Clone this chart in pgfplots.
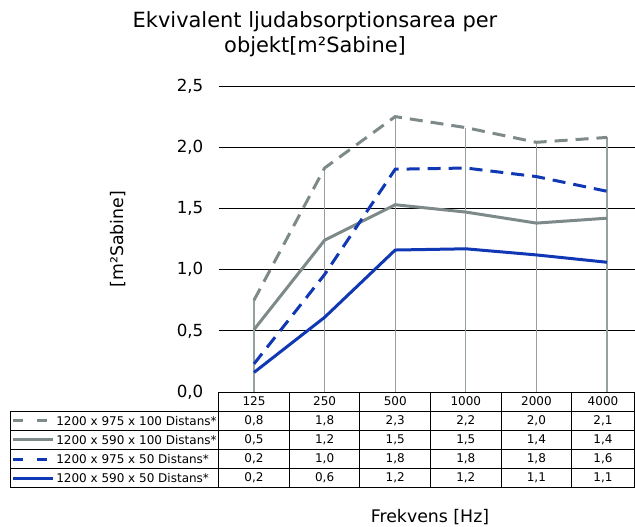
\documentclass[border=0pt]{standalone}
\usepackage{pgfplots}
\pgfplotsset{compat=1.18}
\usepackage{fontspec}
\setmainfont{DejaVu Sans}
\definecolor{sgrey}{RGB}{125,138,137}
\definecolor{sblue}{RGB}{16,56,180}
\definecolor{dropgrey}{RGB}{150,160,160}
\begin{document}
\begin{tikzpicture}[x=0.75pt,y=-0.75pt]
\useasboundingbox (0,0) rectangle (635,526);
\begin{axis}[
  at={(164.025pt,-294pt)}, anchor=south west,
  scale only axis, width=317.7pt, height=229.5pt,
  xmin=-0.5, xmax=5.5, ymin=0, ymax=2.5,
  xtick=\empty,
  ytick={0,0.5,1,1.5,2,2.5},
  ymajorgrids, grid style={black, line width=0.75pt},
  axis line style={draw=none}, major tick length=0pt,
  yticklabel style={font=\fontsize{12.5}{14}\selectfont, xshift=-8pt,
    /pgf/number format/.cd, use comma, fixed, fixed zerofill, precision=1, assume math mode=true},
  ylabel={[m²Sabine]},
  ylabel style={font=\fontsize{13}{15}\selectfont, at={(axis description cs:-0.2377,0.5)}, anchor=center},
  clip=false,
]
\addplot[ycomb, dropgrey, line width=0.8pt, no marks] coordinates {(0,0.75) (1,1.83) (2,2.25) (3,2.16) (4,2.04) (5,2.08)};
\addplot[sgrey, line width=2.25pt, dash pattern=on 9.75pt off 6pt, no marks] coordinates {(0,0.75) (1,1.83) (2,2.25) (3,2.16) (4,2.04) (5,2.08)};
\addplot[sgrey, line width=2.25pt, no marks] coordinates {(0,0.51) (1,1.24) (2,1.53) (3,1.47) (4,1.38) (5,1.42)};
\addplot[sblue, line width=2.25pt, dash pattern=on 9.75pt off 6pt, no marks] coordinates {(0,0.23) (1,0.96) (2,1.82) (3,1.83) (4,1.76) (5,1.64)};
\addplot[sblue, line width=2.25pt, no marks] coordinates {(0,0.16) (1,0.61) (2,1.16) (3,1.17) (4,1.12) (5,1.06)};
\end{axis}
% title
\node[align=center, font=\fontsize{15.7}{18.5}\selectfont] at (315,34) {Ekvivalent ljudabsorptionsarea per\\objekt[m²Sabine]};
% x label
\node[font=\fontsize{13}{15}\selectfont] at (430,517) {Frekvens [Hz]};
% data table
\begin{scope}[line width=0.75pt, black]
  \draw (218.7,392) -- (634,392);
  \draw (218.7,411) -- (634,411);
  \foreach \y in {411,430.2,449.4,468.6,487.8} \draw (10,\y) -- (634,\y);
  \draw (10,411) -- (10,487.8);
  \foreach \i in {0,...,5} \draw ({218.7+70.6*\i},392) -- ({218.7+70.6*\i},487.8);
  \draw (634,392) -- (634,487.8);
\end{scope}
\foreach \lab/\xx in {125/254,250/324.6,500/395.2,1000/465.8,2000/536.4,4000/603}
  \node[font=\fontsize{9}{11}\selectfont] at (\xx,401.5) {\lab};
\newcommand\trow[7]{%
  \foreach \v/\xx in {{#2}/254,{#3}/324.6,{#4}/395.2,{#5}/465.8,{#6}/536.4,{#7}/603}
    \node[font=\fontsize{9}{11}\selectfont] at (\xx,#1) {\v};}
\trow{420.6}{0,8}{1,8}{2,3}{2,2}{2,0}{2,1}
\trow{439.8}{0,5}{1,2}{1,5}{1,5}{1,4}{1,4}
\trow{459}{0,2}{1,0}{1,8}{1,8}{1,8}{1,6}
\trow{478.2}{0,2}{0,6}{1,2}{1,2}{1,1}{1,1}
\foreach \lab/\yy in {1200 x 975 x 100 Distans*/420.6, 1200 x 590 x 100 Distans*/439.8, 1200 x 975 x 50 Distans*/459, 1200 x 590 x 50 Distans*/478.2}
  \node[font=\fontsize{9}{11}\selectfont, anchor=west, inner sep=0pt] at (56,\yy) {\lab};
\draw[sgrey, line width=2.25pt, dash pattern=on 7.5pt off 10.5pt] (13,420.6) -- (53,420.6);
\draw[sgrey, line width=2.25pt] (13,439.8) -- (53,439.8);
\draw[sblue, line width=2.25pt, dash pattern=on 7.5pt off 10.5pt] (13,459) -- (53,459);
\draw[sblue, line width=2.25pt] (13,478.2) -- (53,478.2);
\end{tikzpicture}
\end{document}
